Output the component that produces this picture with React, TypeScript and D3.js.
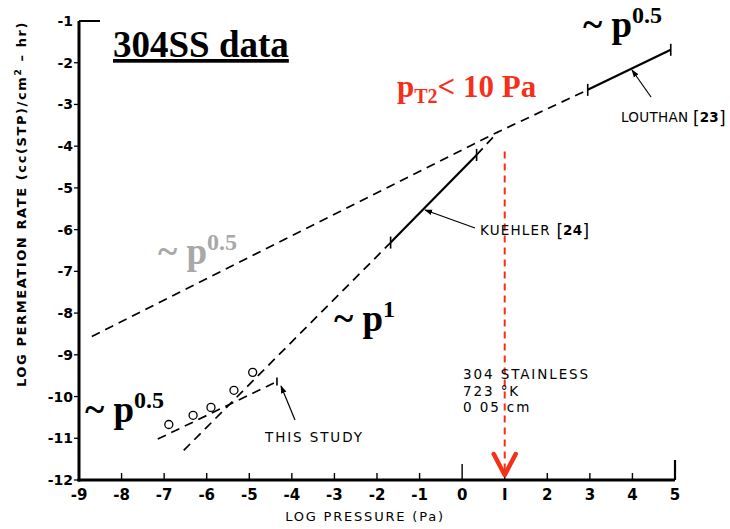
import React from "react";
import * as d3 from "d3";

// data (log pressure, log permeation rate)
const xTicks = [-9, -8, -7, -6, -5, -4, -3, -2, -1, 0, 1, 2, 3, 4, 5];
const yTicks = [-1, -2, -3, -4, -5, -6, -7, -8, -9, -10, -11, -12];

const upperHalfLine = [[-8.7, -8.56], [0.84, -3.66], [2.95, -2.65]];
const louthanLine = [[2.95, -2.65], [4.9, -1.69]];
const p1Dashed = [[-6.54, -11.29], [-1.68, -6.31]];
const kuehlerLine = [[-1.68, -6.31], [0.34, -4.21]];
const kuehlerToCross = [[0.34, -4.21], [0.84, -3.66]];
const thisStudyLine = [[-7.15, -11.02], [-4.35, -9.64]];
const studyPoints = [
  [-6.89, -10.67],
  [-6.32, -10.45],
  [-5.9, -10.26],
  [-5.36, -9.85],
  [-4.92, -9.42],
];
const thresholdX = 1;
const thresholdTop = -4.13;

const W = 730;
const H = 529;
const mono = "'DejaVu Sans', sans-serif";
const serif = "'Liberation Serif', 'Times New Roman', serif";
const red = "#f5301a";

export default function App() {
  const x = d3.scaleLinear().domain([-9, 5]).range([79, 675]);
  const y = d3.scaleLinear().domain([-12, -1]).range([480, 21]);
  const line = d3
    .line<number[]>()
    .x((d) => x(d[0]))
    .y((d) => y(d[1]));

  const dashed = { fill: "none", stroke: "#000", strokeWidth: 1.7, strokeDasharray: "9,6" };
  const solid = { fill: "none", stroke: "#000", strokeWidth: 2.2 };

  const tickMark = (p: number[], len: number) => (
    <line
      x1={x(p[0])}
      x2={x(p[0])}
      y1={y(p[1]) - len}
      y2={y(p[1]) + len}
      stroke="#000"
      strokeWidth={1.6}
    />
  );

  // reference labels like "LOUTHAN [23]" have tall brackets
  const refLabel = (name: string, ref: string, lx: number, ly: number, sp: number) => (
    <text x={lx} y={ly} fontFamily={mono} fontSize={13.5} letterSpacing={sp}>
      {name + " "}
      <tspan fontSize={17} dy={2} letterSpacing={0}>[</tspan>
      <tspan dy={-2} fontWeight="bold" letterSpacing={0.3}>{ref}</tspan>
      <tspan fontSize={17} dy={2} letterSpacing={0}>]</tspan>
    </text>
  );

  return (
    <div style={{ position: "absolute", left: 0, top: 0 }}>
      <svg width={W} height={H} style={{ display: "block", background: "#fff" }}>
        <defs>
          <marker
            id="arrow"
            viewBox="0 -5 10 10"
            refX={9}
            refY={0}
            markerWidth={8}
            markerHeight={8}
            orient="auto"
            markerUnits="userSpaceOnUse"
          >
            <path d="M0,-3.5L10,0L0,3.5Z" fill="#000" />
          </marker>
        </defs>

        {/* axes */}
        <line x1={x(-9)} x2={x(-9)} y1={y(-1)} y2={y(-12) + 1.5} stroke="#000" strokeWidth={3} />
        <line x1={x(-9)} x2={x(-9) + 21} y1={y(-1)} y2={y(-1)} stroke="#000" strokeWidth={2} />
        <line x1={x(-9) - 1.5} x2={x(5)} y1={y(-12)} y2={y(-12)} stroke="#000" strokeWidth={3} />
        {xTicks.map((t) => (
          <line
            key={"xt" + t}
            x1={x(t)}
            x2={x(t)}
            y1={y(-12)}
            y2={y(-12) - (t === 5 ? 20 : t === 0 ? 16 : 7)}
            stroke="#000"
            strokeWidth={t === 5 ? 2.2 : 1.4}
          />
        ))}
        {yTicks.slice(1).map((t) => (
          <line
            key={"yt" + t}
            x1={x(-9) - 5}
            x2={x(-9)}
            y1={y(t)}
            y2={y(t)}
            stroke="#000"
            strokeWidth={1.3}
          />
        ))}
        {xTicks.map((t) => (
          <text
            key={"xl" + t}
            x={x(t)}
            y={500}
            textAnchor="middle"
            fontFamily={mono}
            fontSize={15}
            fontWeight="bold"
          >
            {t === 1 ? "I" : t}
          </text>
        ))}
        {yTicks.map((t) => (
          <text
            key={"yl" + t}
            x={73}
            y={y(t) + 5}
            textAnchor="end"
            fontFamily={mono}
            fontSize={14}
            fontWeight="bold"
          >
            {t}
          </text>
        ))}
        <text
          x={365}
          y={521}
          textAnchor="middle"
          fontFamily={mono}
          fontSize={13}
          letterSpacing={1.8}
        >
          LOG PRESSURE (Pa)
        </text>
        <text
          transform={`translate(26,204) rotate(-90)`}
          textAnchor="middle"
          fontFamily={mono}
          fontSize={13}
          fontWeight="bold"
          letterSpacing={1.6}
        >
          LOG PERMEATION RATE (cc(STP)/cm
          <tspan dy={-5} fontSize={9}>2</tspan>
          <tspan dy={5}> – hr)</tspan>
        </text>

        {/* lines */}
        <path d={line(upperHalfLine as any) || ""} {...dashed} />
        <path d={line(louthanLine as any) || ""} {...solid} />
        {tickMark(louthanLine[0], 6)}
        {tickMark(louthanLine[1], 6)}
        <path d={line(p1Dashed as any) || ""} {...dashed} />
        <path d={line(kuehlerLine as any) || ""} {...solid} />
        {tickMark(kuehlerLine[0], 6)}
        {tickMark(kuehlerLine[1], 6)}
        <path d={line(kuehlerToCross as any) || ""} {...dashed} />
        <path d={line(thisStudyLine as any) || ""} {...dashed} />
        {tickMark(thisStudyLine[1], 4)}
        {studyPoints.map((p, i) => (
          <circle key={i} cx={x(p[0])} cy={y(p[1])} r={4} fill="#fff" stroke="#000" strokeWidth={1.3} />
        ))}

        {/* threshold arrow */}
        <line
          x1={x(thresholdX)}
          x2={x(thresholdX)}
          y1={y(thresholdTop)}
          y2={y(-12) - 6}
          stroke={red}
          strokeWidth={2}
          strokeDasharray="7,5"
        />
        <path
          d={`M${x(thresholdX) - 11},${y(-12) - 26}L${x(thresholdX)},${y(-12) - 5}L${x(thresholdX) + 11},${y(-12) - 26}`}
          fill="none"
          stroke={red}
          strokeWidth={4.5}
          strokeLinejoin="round"
          strokeLinecap="round"
        />

        {/* annotation arrows */}
        <line x1={651} y1={97} x2={632} y2={70} stroke="#000" strokeWidth={1.2} markerEnd="url(#arrow)" />
        <line x1={475} y1={228} x2={425} y2={210} stroke="#000" strokeWidth={1.2} markerEnd="url(#arrow)" />
        <line x1={295} y1={420} x2={281} y2={386} stroke="#000" strokeWidth={1.2} markerEnd="url(#arrow)" />

        {/* labels */}
        {refLabel("LOUTHAN", "23", 621, 122, 0.3)}
        {refLabel("KUEHLER", "24", 480, 235, 1.2)}
        <text x={265} y={442} fontFamily={mono} fontSize={13.5} letterSpacing={1.9}>
          THIS STUDY
        </text>
        <text fontFamily={mono} fontSize={13.5} letterSpacing={1.9}>
          <tspan x={463} y={379}>304  STAINLESS</tspan>
          <tspan x={463} y={396}>723 °K</tspan>
          <tspan x={463} y={412}>0 05 cm</tspan>
        </text>

        <text x={113} y={57} fontFamily={serif} fontSize={37} fontWeight="bold" textDecoration="underline">
          304SS data
        </text>
        <text x={583} y={37} fontFamily={serif} fontSize={37} fontWeight="bold">
          ~ p<tspan dy={-14} fontSize={24}>0.5</tspan>
        </text>
        <text x={397} y={97} fontFamily={serif} fontSize={31} fontWeight="bold" fill={red}>
          p<tspan dy={6} fontSize={20}>T2</tspan>
          <tspan dy={-6}>{"< 10 Pa"}</tspan>
        </text>
        <text x={158} y={264} fontFamily={serif} fontSize={37} fontWeight="bold" fill="#a8a8a8">
          ~ p<tspan dy={-14} fontSize={24}>0.5</tspan>
        </text>
        <text x={334} y={331} fontFamily={serif} fontSize={37} fontWeight="bold">
          ~ p<tspan dy={-14} fontSize={24}>1</tspan>
        </text>
        <text x={85} y={422} fontFamily={serif} fontSize={37} fontWeight="bold">
          ~ p<tspan dy={-14} fontSize={24}>0.5</tspan>
        </text>
      </svg>
    </div>
  );
}
